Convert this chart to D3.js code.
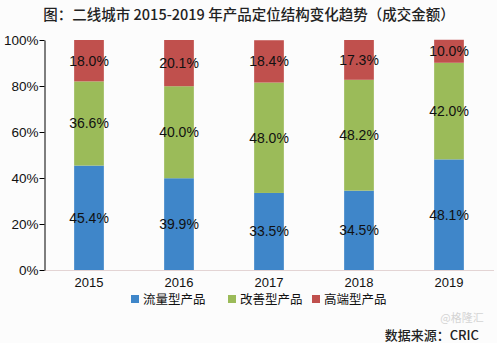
<!DOCTYPE html>
<html><head><meta charset="utf-8">
<script src="https://cdn.jsdelivr.net/npm/d3@7"></script>
<style>body{margin:0;background:#fcfcfc;}svg{display:block;font-family:"Liberation Sans",Arial,sans-serif;}</style>
</head><body>
<svg id="c" width="497" height="343"></svg>
<script>
const years = ["2015","2016","2017","2018","2019"];
const seriesNames = ["流量型产品","改善型产品","高端型产品"];
const flow = [45.4, 39.9, 33.5, 34.5, 48.1];
const improve = [36.6, 40.0, 48.0, 48.2, 42.0];
const high = [18.0, 20.1, 18.4, 17.3, 10.0];
const yTicks = [0,20,40,60,80,100];
const colors = ["#3f86c9","#9bbb59","#c0504d"];

const svg = d3.select("#c");
const cjk = '"Noto Sans CJK SC","Liberation Sans",sans-serif';
const x = d3.scaleBand().domain(years).range([44,494]).paddingInner(0.67).paddingOuter(0.335);
const y = d3.scaleLinear().domain([0,100]).range([270,40]);

const rows = years.map((yr,i)=>({year:yr, s0:flow[i], s1:improve[i], s2:high[i]}));
const stack = d3.stack().keys(["s0","s1","s2"])(rows);

svg.append("text").attr("x",249).attr("y",20).attr("text-anchor","middle")
  .attr("font-family",cjk).attr("font-size",14.5).attr("font-weight",500).attr("fill","#222")
  .text("图：二线城市 2015-2019 年产品定位结构变化趋势（成交金额）");

// x baseline
svg.append("line").attr("x1",44).attr("x2",494).attr("y1",270.5).attr("y2",270.5).attr("stroke","#e3d4d4");

stack.forEach((layer,k)=>{
  const g = svg.append("g");
  g.selectAll("rect").data(layer).enter().append("rect")
    .attr("x",d=>x(d.data.year)).attr("width",x.bandwidth())
    .attr("y",d=>y(d[1])).attr("height",d=>y(d[0])-y(d[1]))
    .attr("fill",colors[k]);
  g.selectAll("text").data(layer).enter().append("text")
    .attr("x",d=>x(d.data.year)+x.bandwidth()/2)
    .attr("y",d=>(y(d[0])+y(d[1]))/2+5)
    .attr("text-anchor","middle").attr("font-size",14).attr("fill","#111")
    .text(d=>(d[1]-d[0]).toFixed(1)+"%");
});

const yAxis = d3.axisLeft(y).tickValues(yTicks).tickFormat(d=>d+"%").tickSize(5).tickSizeOuter(0);
const ya = svg.append("g").attr("transform","translate(44.5,0)").call(yAxis);
ya.select(".domain").attr("stroke","#000");
ya.selectAll(".tick line").attr("stroke","#000");
ya.selectAll("text").attr("font-size",13.5).attr("fill","#111").attr("x",-6).attr("font-family","'Liberation Sans',Arial,sans-serif");

const xa = svg.append("g").attr("transform","translate(0,270)").call(d3.axisBottom(x).tickSize(0));
xa.select(".domain").remove();
xa.selectAll("text").attr("font-size",13).attr("fill","#111").attr("dy","1.05em").attr("font-family","'Liberation Sans',Arial,sans-serif");

const lx = [131,228,312];
seriesNames.forEach((n,i)=>{
  svg.append("rect").attr("x",lx[i]).attr("y",295).attr("width",8).attr("height",8).attr("fill",colors[i]);
  svg.append("text").attr("x",lx[i]+12).attr("y",304).attr("font-family",cjk).attr("font-size",12.5).attr("fill","#111").text(n);
});

svg.append("text").attr("x",462).attr("y",322).attr("text-anchor","middle").attr("font-family",cjk).attr("font-size",11).attr("fill","#d4d4d4").text("@格隆汇");
svg.append("text").attr("x",479).attr("y",340).attr("text-anchor","end").attr("font-family",cjk).attr("font-size",13).attr("font-weight",500).attr("fill","#222").text("数据来源：CRIC");
</script>
</body></html>
